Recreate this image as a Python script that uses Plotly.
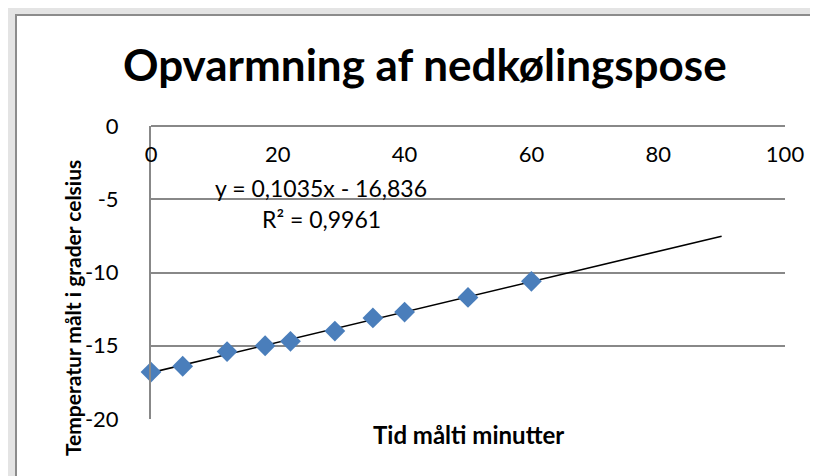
import plotly.graph_objects as go

# Data
tid = [0, 5, 12, 18, 22, 29, 35, 40, 50, 60]
temperatur = [-16.8, -16.4, -15.4, -15.0, -14.7, -14.0, -13.1, -12.7, -11.7, -10.6]
trend_slope = 0.1035
trend_intercept = -16.836
trend_x = [0, 90]
x_ticks = [0, 20, 40, 60, 80, 100]
y_ticks = [0, -5, -10, -15, -20]

W, H = 818, 476
L, R, T, B = 143, 777, 118, 411

def px(x):
    return (x - L) / (R - L)

def py(y):
    return (B - y) / (B - T)

trend_y = [trend_slope * x + trend_intercept for x in trend_x]

FONT = "Lato"

fig = go.Figure()
fig.add_trace(go.Scatter(
    x=trend_x, y=trend_y, mode="lines", cliponaxis=False,
    line=dict(color="black", width=1.6), showlegend=False, hoverinfo="skip"))
fig.add_trace(go.Scatter(
    x=tid, y=temperatur, mode="markers", cliponaxis=False,
    marker=dict(symbol="diamond", size=16, color="#4a7ebb", line=dict(width=0)),
    showlegend=False))

fig.update_layout(
    width=W, height=H,
    margin=dict(l=L, r=W - R, t=T, b=H - B, pad=0),
    paper_bgcolor="#e4e4e4",
    plot_bgcolor="rgba(0,0,0,0)",
    font=dict(family=FONT, size=22, color="black"),
    xaxis=dict(
        range=[0, 100], tickvals=x_ticks, ticktext=[str(v) for v in x_ticks],
        side="bottom", anchor="free", position=1,
        ticklabelstandoff=9,
        showgrid=False, zeroline=False,
        showline=True, linecolor="#888888", linewidth=2,
        ticks="", tickfont=dict(size=22, family=FONT),
    ),
    yaxis=dict(
        range=[-20, 0], tickvals=y_ticks, ticktext=[str(v) for v in y_ticks],
        showgrid=True, gridcolor="#888888", gridwidth=2,
        zeroline=False,
        showline=True, linecolor="#888888", linewidth=2,
        ticks="", ticklabelstandoff=26, tickfont=dict(size=22, family=FONT),
    ),
    shapes=[
        dict(type="rect", xref="paper", yref="paper", layer="below",
             x0=px(8), x1=px(840), y0=py(7), y1=py(500),
             fillcolor="white", line=dict(color="#8c8c8c", width=2)),
    ],
    annotations=[
        dict(text="<b>Opvarmning af nedkølingspose</b>", xref="paper", yref="paper",
             x=px(417), y=py(56), showarrow=False, xanchor="center", yanchor="middle",
             font=dict(size=44, family=FONT, color="black")),
        dict(text="<b>Tid målti minutter</b>", xref="paper", yref="paper",
             x=px(460), y=py(426), showarrow=False, xanchor="center", yanchor="middle",
             font=dict(size=24, family=FONT, color="black")),
        dict(text="<b>Temperatur målt i grader celsius</b>", xref="paper", yref="paper",
             x=px(64), y=py(300), showarrow=False, xanchor="center", yanchor="middle",
             textangle=-90, font=dict(size=21, family=FONT, color="black")),
        dict(text="y = 0,1035x - 16,836", xref="paper", yref="paper",
             x=px(313), y=py(180), showarrow=False, xanchor="center", yanchor="middle",
             font=dict(size=23, family=FONT, color="black")),
        dict(text="R² = 0,9961", xref="paper", yref="paper",
             x=px(313), y=py(211), showarrow=False, xanchor="center", yanchor="middle",
             font=dict(size=23, family=FONT, color="black")),
    ],
)

fig.write_html("out.html")
